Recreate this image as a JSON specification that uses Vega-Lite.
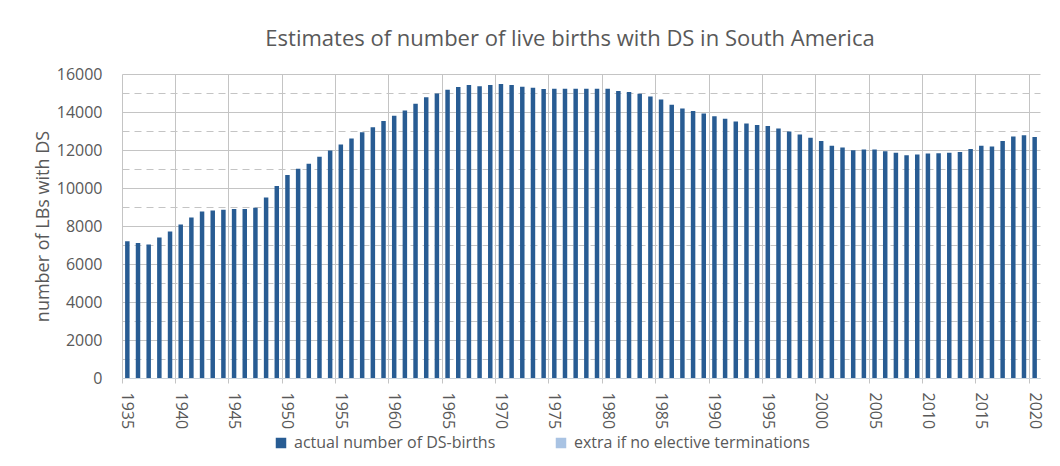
{
  "$schema": "https://vega.github.io/schema/vega-lite/v6.json",
  "width": 918,
  "height": 304,
  "autosize": {"type": "none"},
  "padding": {"left": 122, "top": 74, "right": 20, "bottom": 88},
  "background": "white",
  "title": {
    "text": "Estimates of number of live births with DS in South America",
    "font": "Open Sans",
    "fontSize": 22,
    "fontWeight": "normal",
    "color": "#595959",
    "baseline": "alphabetic",
    "offset": -2,
    "dx": -11
  },
  "data": {
    "values": [
      {"year": 1935, "births": 7200, "series": "actual number of DS-births"},
      {"year": 1936, "births": 7110, "series": "actual number of DS-births"},
      {"year": 1937, "births": 7020, "series": "actual number of DS-births"},
      {"year": 1938, "births": 7390, "series": "actual number of DS-births"},
      {"year": 1939, "births": 7710, "series": "actual number of DS-births"},
      {"year": 1940, "births": 8080, "series": "actual number of DS-births"},
      {"year": 1941, "births": 8450, "series": "actual number of DS-births"},
      {"year": 1942, "births": 8760, "series": "actual number of DS-births"},
      {"year": 1943, "births": 8810, "series": "actual number of DS-births"},
      {"year": 1944, "births": 8850, "series": "actual number of DS-births"},
      {"year": 1945, "births": 8900, "series": "actual number of DS-births"},
      {"year": 1946, "births": 8900, "series": "actual number of DS-births"},
      {"year": 1947, "births": 8960, "series": "actual number of DS-births"},
      {"year": 1948, "births": 9500, "series": "actual number of DS-births"},
      {"year": 1949, "births": 10100, "series": "actual number of DS-births"},
      {"year": 1950, "births": 10680, "series": "actual number of DS-births"},
      {"year": 1951, "births": 11010, "series": "actual number of DS-births"},
      {"year": 1952, "births": 11270, "series": "actual number of DS-births"},
      {"year": 1953, "births": 11640, "series": "actual number of DS-births"},
      {"year": 1954, "births": 11980, "series": "actual number of DS-births"},
      {"year": 1955, "births": 12290, "series": "actual number of DS-births"},
      {"year": 1956, "births": 12610, "series": "actual number of DS-births"},
      {"year": 1957, "births": 12940, "series": "actual number of DS-births"},
      {"year": 1958, "births": 13200, "series": "actual number of DS-births"},
      {"year": 1959, "births": 13520, "series": "actual number of DS-births"},
      {"year": 1960, "births": 13800, "series": "actual number of DS-births"},
      {"year": 1961, "births": 14080, "series": "actual number of DS-births"},
      {"year": 1962, "births": 14430, "series": "actual number of DS-births"},
      {"year": 1963, "births": 14770, "series": "actual number of DS-births"},
      {"year": 1964, "births": 14980, "series": "actual number of DS-births"},
      {"year": 1965, "births": 15170, "series": "actual number of DS-births"},
      {"year": 1966, "births": 15310, "series": "actual number of DS-births"},
      {"year": 1967, "births": 15420, "series": "actual number of DS-births"},
      {"year": 1968, "births": 15360, "series": "actual number of DS-births"},
      {"year": 1969, "births": 15420, "series": "actual number of DS-births"},
      {"year": 1970, "births": 15470, "series": "actual number of DS-births"},
      {"year": 1971, "births": 15420, "series": "actual number of DS-births"},
      {"year": 1972, "births": 15330, "series": "actual number of DS-births"},
      {"year": 1973, "births": 15280, "series": "actual number of DS-births"},
      {"year": 1974, "births": 15210, "series": "actual number of DS-births"},
      {"year": 1975, "births": 15220, "series": "actual number of DS-births"},
      {"year": 1976, "births": 15220, "series": "actual number of DS-births"},
      {"year": 1977, "births": 15220, "series": "actual number of DS-births"},
      {"year": 1978, "births": 15220, "series": "actual number of DS-births"},
      {"year": 1979, "births": 15220, "series": "actual number of DS-births"},
      {"year": 1980, "births": 15220, "series": "actual number of DS-births"},
      {"year": 1981, "births": 15100, "series": "actual number of DS-births"},
      {"year": 1982, "births": 15050, "series": "actual number of DS-births"},
      {"year": 1983, "births": 14960, "series": "actual number of DS-births"},
      {"year": 1984, "births": 14820, "series": "actual number of DS-births"},
      {"year": 1985, "births": 14660, "series": "actual number of DS-births"},
      {"year": 1986, "births": 14380, "series": "actual number of DS-births"},
      {"year": 1987, "births": 14190, "series": "actual number of DS-births"},
      {"year": 1988, "births": 14050, "series": "actual number of DS-births"},
      {"year": 1989, "births": 13920, "series": "actual number of DS-births"},
      {"year": 1990, "births": 13770, "series": "actual number of DS-births"},
      {"year": 1991, "births": 13640, "series": "actual number of DS-births"},
      {"year": 1992, "births": 13500, "series": "actual number of DS-births"},
      {"year": 1993, "births": 13400, "series": "actual number of DS-births"},
      {"year": 1994, "births": 13310, "series": "actual number of DS-births"},
      {"year": 1995, "births": 13260, "series": "actual number of DS-births"},
      {"year": 1996, "births": 13130, "series": "actual number of DS-births"},
      {"year": 1997, "births": 12980, "series": "actual number of DS-births"},
      {"year": 1998, "births": 12820, "series": "actual number of DS-births"},
      {"year": 1999, "births": 12640, "series": "actual number of DS-births"},
      {"year": 2000, "births": 12470, "series": "actual number of DS-births"},
      {"year": 2001, "births": 12220, "series": "actual number of DS-births"},
      {"year": 2002, "births": 12130, "series": "actual number of DS-births"},
      {"year": 2003, "births": 11990, "series": "actual number of DS-births"},
      {"year": 2004, "births": 12030, "series": "actual number of DS-births"},
      {"year": 2005, "births": 12030, "series": "actual number of DS-births"},
      {"year": 2006, "births": 11940, "series": "actual number of DS-births"},
      {"year": 2007, "births": 11850, "series": "actual number of DS-births"},
      {"year": 2008, "births": 11730, "series": "actual number of DS-births"},
      {"year": 2009, "births": 11760, "series": "actual number of DS-births"},
      {"year": 2010, "births": 11820, "series": "actual number of DS-births"},
      {"year": 2011, "births": 11830, "series": "actual number of DS-births"},
      {"year": 2012, "births": 11850, "series": "actual number of DS-births"},
      {"year": 2013, "births": 11900, "series": "actual number of DS-births"},
      {"year": 2014, "births": 12050, "series": "actual number of DS-births"},
      {"year": 2015, "births": 12220, "series": "actual number of DS-births"},
      {"year": 2016, "births": 12190, "series": "actual number of DS-births"},
      {"year": 2017, "births": 12470, "series": "actual number of DS-births"},
      {"year": 2018, "births": 12710, "series": "actual number of DS-births"},
      {"year": 2019, "births": 12770, "series": "actual number of DS-births"},
      {"year": 2020, "births": 12680, "series": "actual number of DS-births"}
    ]
  },
  "layer": [
    {
      "mark": {"type": "bar", "width": {"band": 0.42}},
      "encoding": {
        "x": {
          "field": "year",
          "type": "ordinal",
          "scale": {"paddingInner": 0, "paddingOuter": 0},
          "axis": {
            "title": null,
            "values": [1935, 1940, 1945, 1950, 1955, 1960, 1965, 1970, 1975, 1980, 1985, 1990, 1995, 2000, 2005, 2010, 2015, 2020],
            "bandPosition": 0,
            "labelAngle": 90,
            "labelAlign": "left",
            "labelBaseline": "middle",
            "labelFontSize": 16,
            "labelPadding": 9,
            "grid": true,
            "gridColor": "#c4c4c4",
            "gridWidth": 1,
            "ticks": true,
            "tickSize": 5,
            "tickColor": "#c4c4c4",
            "domain": true,
            "domainColor": "#c8d2dc",
            "domainWidth": 1
          }
        },
        "y": {
          "field": "births",
          "type": "quantitative",
          "scale": {"domain": [0, 16000], "nice": false},
          "axis": {
            "title": "number of LBs with DS",
            "titleFontSize": 18,
            "titleFontWeight": "normal",
            "titleX": -79,
            "titleY": 152,
            "titleAngle": 270,
            "titleAlign": "center",
            "titleBaseline": "middle",
            "values": [0, 2000, 4000, 6000, 8000, 10000, 12000, 14000, 16000],
            "format": "d",
            "labelFontSize": 16,
            "labelPadding": 20,
            "ticks": false,
            "domain": false,
            "grid": true,
            "gridColor": "#c4c4c4",
            "gridWidth": 1
          }
        },
        "color": {
          "field": "series",
          "type": "nominal",
          "scale": {
            "domain": ["actual number of DS-births", "extra if no elective terminations"],
            "range": ["#285c93", "#a9c3e3"]
          },
          "legend": {
            "orient": "none",
            "legendX": 151,
            "legendY": 361,
            "direction": "horizontal",
            "title": null,
            "symbolType": "square",
            "symbolSize": 110,
            "symbolStrokeWidth": 0,
            "labelFontSize": 16,
            "labelOffset": 5,
            "labelLimit": 400,
            "columnPadding": 57,
            "padding": 0
          }
        }
      }
    },
    {
      "mark": {"type": "bar", "width": {"band": 0.42}, "opacity": 0},
      "encoding": {
        "x": {"field": "year", "type": "ordinal"},
        "y": {
          "field": "births",
          "type": "quantitative",
          "axis": {
            "orient": "left",
            "title": null,
            "values": [1000, 3000, 5000, 7000, 9000, 11000, 13000, 15000],
            "labels": false,
            "ticks": false,
            "domain": false,
            "grid": true,
            "gridColor": "#c4c4c4",
            "gridWidth": 1,
            "gridDash": [7, 5]
          }
        }
      }
    }
  ],
  "resolve": {"axis": {"y": "independent"}},
  "config": {
    "font": "Open Sans",
    "view": {"stroke": null},
    "axis": {"labelColor": "#595959", "titleColor": "#595959", "labelFont": "Open Sans", "titleFont": "Open Sans"},
    "legend": {"labelColor": "#595959", "labelFont": "Open Sans"}
  }
}
